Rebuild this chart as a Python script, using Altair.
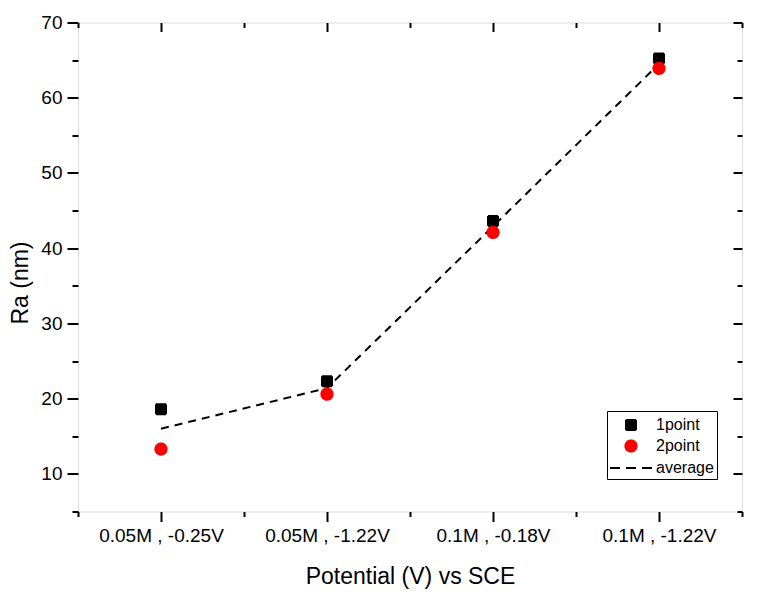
import altair as alt
import pandas as pd

categories = ["0.05M , -0.25V", "0.05M , -1.22V", "0.1M , -0.18V", "0.1M , -1.22V"]
positions = [1, 2, 3, 4]
point1 = [18.6, 22.3, 43.6, 65.2]
point2 = [13.3, 20.6, 42.1, 63.9]
average = [16.0, 21.4, 42.9, 64.5]

series_names = ["1point", "2point", "average"]

pts = pd.DataFrame({
    "pos": positions * 2,
    "value": point1 + point2,
    "series": ["1point"] * 4 + ["2point"] * 4,
})
avg_df = pd.DataFrame({"pos": positions, "value": average})

FONT = "Liberation Sans"
xticks = [0.5, 1, 1.5, 2, 2.5, 3, 3.5, 4, 4.5]
yticks = list(range(5, 75, 5))
cat_js = "[" + ",".join("'" + c + "'" for c in categories) + "]"
x_label_expr = f"datum.value % 1 === 0 ? {cat_js}[datum.value - 1] : ''"

# symbol shapes (unit box scaled by sqrt(size)/2 = 10 px)
SQUARE = "M-0.5,-0.5H0.5V0.5H-0.5Z"
CIRCLE = "M-0.56,0A0.56,0.56 0 1,0 0.56,0A0.56,0.56 0 1,0 -0.56,0Z"
DASHLINE = "M-2.1,0H2.1"
SYM_SIZE = 400

xscale = alt.Scale(domain=[0.5, 4.5], nice=False, zero=False)
yscale = alt.Scale(domain=[5, 70], nice=False, zero=False)

x_bottom = alt.Axis(
    orient="bottom", values=xticks, labelExpr=x_label_expr, domain=False,
    grid=False, tickColor="black", tickWidth=2,
    tickSize={"condition": {"test": "datum.value % 1 === 0", "value": 10}, "value": 5},
    labelFont=FONT, labelFontSize=19, labelColor="black", labelPadding=5,
    labelFlush=False, labelOverlap=False,
    title="Potential (V) vs SCE", titleFont=FONT, titleFontSize=23,
    titleFontWeight="normal", titleColor="black", titleBaseline="alphabetic",
    titleAnchor="middle", titleY=71.5,
)
y_left = alt.Axis(
    orient="left", values=yticks,
    labelExpr="datum.value % 10 === 0 ? datum.value : ''", domain=False,
    grid=False, tickColor="black", tickWidth=2,
    tickSize={"condition": {"test": "datum.value % 10 === 0", "value": 11}, "value": 6},
    labelFont=FONT, labelFontSize=19, labelColor="black", labelPadding=5,
    labelFlush=False, labelOverlap=False,
    title="Ra (nm)", titleFont=FONT, titleFontSize=23, titleFontWeight="normal",
    titleColor="black", titleAngle=270, titleAlign="center",
    titleBaseline="alphabetic", titleX=-50.5, titleY=260,
)
x_top = alt.Axis(
    orient="top", values=xticks, labels=False, domain=False, grid=False,
    tickColor="black", tickWidth=2, title=None,
    tickSize={"condition": {"test": "datum.value % 1 === 0", "value": -9}, "value": -5},
)
y_right = alt.Axis(
    orient="right", values=yticks, labels=False, domain=False, grid=False,
    tickColor="black", tickWidth=2, title=None,
    tickSize={"condition": {"test": "datum.value % 10 === 0", "value": -9}, "value": -5},
)

dom = series_names
points = alt.Chart(pts).mark_point(filled=True, opacity=1, size=SYM_SIZE).encode(
    x=alt.X("pos:Q", scale=xscale, axis=x_bottom),
    y=alt.Y("value:Q", scale=yscale, axis=y_left),
    color=alt.Color(
        "series:N",
        scale=alt.Scale(domain=dom, range=["black", "red", "black"]),
        legend=alt.Legend(
            title=None, orient="none", legendX=529, legendY=388.5,
            strokeColor="black", fillColor="white", padding=3,
            labelFont=FONT, labelFontSize=16, labelColor="black",
            labelOffset=14, symbolOffset=10, rowPadding=1, symbolStrokeWidth=2,
            symbolOpacity=1, symbolSize=SYM_SIZE,
        ),
    ),
    shape=alt.Shape("series:N", scale=alt.Scale(domain=dom, range=[SQUARE, CIRCLE, DASHLINE])),
    stroke=alt.Stroke("series:N", scale=alt.Scale(domain=dom, range=["black", "red", "black"])),
    strokeDash=alt.StrokeDash("series:N", scale=alt.Scale(domain=dom, range=[[1, 0], [1, 0], [10, 6]])),
)

line = alt.Chart(avg_df).mark_line(color="black", strokeWidth=2, strokeDash=[8, 6]).encode(
    x=alt.X("pos:Q", scale=xscale, axis=x_top),
    y=alt.Y("value:Q", scale=yscale, axis=y_right),
)

chart = alt.layer(line, points).resolve_axis(x="independent", y="independent").properties(
    width=664,
    height=489,
    autosize=alt.AutoSizeParams(type="none"),
    padding={"left": 70, "top": 14.5, "right": 14, "bottom": 90},
).configure_view(stroke="black", strokeWidth=2.5, fill="white").configure(background="white")

chart.save("out.html", embed_options={"renderer": "svg", "actions": False})
